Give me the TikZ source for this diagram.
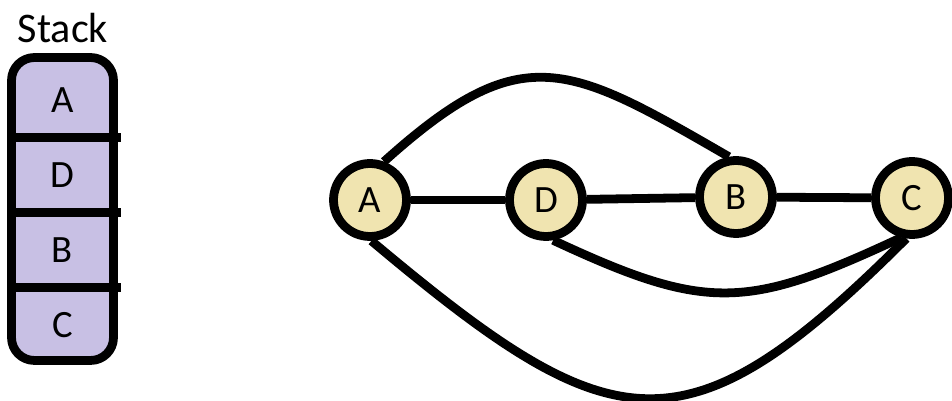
\documentclass[tikz,border=0pt]{standalone}
\usepackage{fontspec}
\setmainfont{Carlito}
\usepackage{tikz}
\usetikzlibrary{positioning, calc}
\usepackage{xcolor}
\definecolor{vertexfill}{RGB}{240,228,176}
\definecolor{stackfill}{RGB}{200,192,228}
\tikzset{
  vertex/.style={
    circle, draw=black, line width=5pt, fill=vertexfill,
    minimum size=1.46cm, inner sep=0pt,
    font=\fontsize{22}{24}\selectfont
  },
  stackframe/.style={
    rectangle, rounded corners=13pt, draw=black, line width=5pt,
    fill=stackfill, minimum width=2.04cm, minimum height=6.06cm
  },
  cell/.style={
    rectangle, minimum width=2.04cm, minimum height=1.5cm,
    inner sep=0pt, font=\fontsize{22}{24}\selectfont
  },
  edge/.style={line width=5pt, draw=black}
}

\begin{document}
\begin{tikzpicture}[x=0.02cm, y=0.02cm]
  \useasboundingbox (0,0) rectangle (952,-401);

  % stack on the left
  \node[stackframe] (stack) at (62.5,-209) {};
  \node[font=\fontsize{24}{26}\selectfont] (title) at (63,-28) {Stack};
  \foreach \l [count=\i] in {A,D,B,C}
    \node[cell] (s\l) at (62.5,{-100-75*(\i-1)}) {\l};
  \foreach \l in {A,D,B}
    \draw[edge] (s\l.south -| stack.west) -- ([xshift=2pt]s\l.south -| stack.east);

  % graph
  \node[vertex] (A) at (370,-200) {A};
  \node[vertex] (D) at (546,-200) {D};
  \node[vertex] (B) at (736,-197) {B};
  \node[vertex] (C) at (912,-198) {C};

  \draw[edge] (A) -- (D);
  \draw[edge] (D) -- (B);
  \draw[edge] (B) -- (C);
  \draw[edge] (A.70) to[out=42, in=150, looseness=1.38] (B.100);
  \draw[edge] (D.280) to[out=-25, in=205, looseness=1.25] (C.255);
  \draw[edge] (A.272) to[out=-40, in=225, looseness=1.5] (C.262);
\end{tikzpicture}
\end{document}
